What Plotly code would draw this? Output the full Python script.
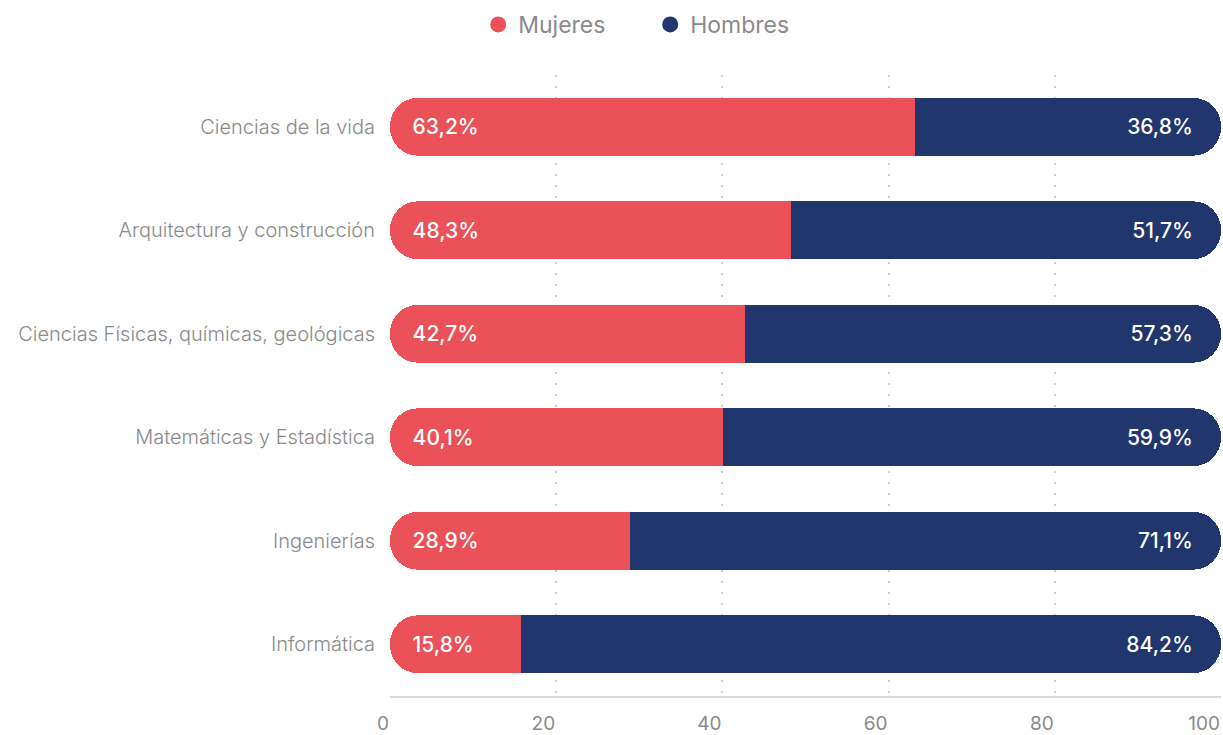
import plotly.graph_objects as go

# Data
areas = [
    "Ciencias de la vida",
    "Arquitectura y construcción",
    "Ciencias Físicas, químicas, geológicas",
    "Matemáticas y Estadística",
    "Ingenierías",
    "Informática",
]
mujeres = [63.2, 48.3, 42.7, 40.1, 28.9, 15.8]
hombres = [36.8, 51.7, 57.3, 59.9, 71.1, 84.2]
x_ticks = [0, 20, 40, 60, 80, 100]

RED = "#EA5158"
NAVY = "#21366C"
GRAY = "#8a8a8a"
FONT = "Inter, sans-serif"
CLEAR = "rgba(0,0,0,0)"
PAD = "\u00a0"


def fmt(v):
    return f"{v:.1f}".replace(".", ",") + "%"


label_font = dict(color="white", size=21, family=FONT, weight=500)

fig = go.Figure()

# hombres: stacked after a transparent spacer so only the right end is rounded
fig.add_trace(go.Bar(
    y=areas, x=mujeres, orientation="h", xaxis="x",
    marker=dict(color=CLEAR, line=dict(width=0)),
    showlegend=False, hoverinfo="skip",
))
fig.add_trace(go.Bar(
    y=areas, x=hombres, orientation="h", xaxis="x",
    name="Hombres",
    marker=dict(color=NAVY, line=dict(width=0)),
    text=[fmt(h) + PAD * 4 for h in hombres],
    textposition="inside",
    insidetextanchor="end",
    textfont=label_font,
    showlegend=False, hoverinfo="skip",
))

# mujeres: on a reversed overlay axis so the rounded end sits at 0
fig.add_trace(go.Bar(
    y=areas, x=hombres, orientation="h", xaxis="x2",
    marker=dict(color=CLEAR, line=dict(width=0)),
    showlegend=False, hoverinfo="skip",
))
fig.add_trace(go.Bar(
    y=areas, x=mujeres, orientation="h", xaxis="x2",
    name="Mujeres",
    marker=dict(color=RED, line=dict(width=0)),
    text=[PAD * 3 + fmt(m) for m in mujeres],
    textposition="inside",
    insidetextanchor="end",
    textfont=label_font,
    showlegend=False, hoverinfo="skip",
))

# legend entries with round markers
for name, color in [("Mujeres", RED), ("Hombres", NAVY)]:
    fig.add_trace(go.Scatter(
        x=[None], y=[None], mode="markers", name=name,
        marker=dict(symbol="circle", size=18, color=color),
    ))

fig.update_layout(
    width=1223,
    height=735,
    barmode="stack",
    bargap=0.44,
    barcornerradius="50%",
    plot_bgcolor="white",
    paper_bgcolor="white",
    margin=dict(l=390, r=2, t=75, b=39),
    font=dict(family=FONT, color=GRAY),
    legend=dict(
        orientation="h",
        xref="container",
        x=0.391,
        xanchor="left",
        yref="container",
        y=0.996,
        yanchor="top",
        entrywidth=127,
        font=dict(size=23, color=GRAY),
        traceorder="normal",
    ),
    xaxis=dict(
        range=[0, 100],
        tickvals=x_ticks,
        showgrid=True,
        gridcolor="#cfcfcf",
        griddash="2px,9px",
        gridwidth=1.5,
        zeroline=False,
        showline=True,
        linecolor="#d9d9d9",
        linewidth=2,
        ticks="",
        ticklabelposition="outside left",
        ticklabelstandoff=9,
        tickfont=dict(size=19, color=GRAY),
        automargin=False,
        fixedrange=True,
    ),
    xaxis2=dict(
        overlaying="x",
        range=[100, 0],
        visible=False,
        showgrid=False,
        fixedrange=True,
    ),
    yaxis=dict(
        categoryorder="array",
        categoryarray=areas[::-1],
        showgrid=False,
        zeroline=False,
        ticks="",
        ticklabelstandoff=14,
        tickfont=dict(size=20, color=GRAY, weight=300),
        automargin=False,
        fixedrange=True,
    ),
)

fig.write_html(
    "out.html",
    config={"displayModeBar": False},
    post_script="document.body.style.margin='0';",
)
